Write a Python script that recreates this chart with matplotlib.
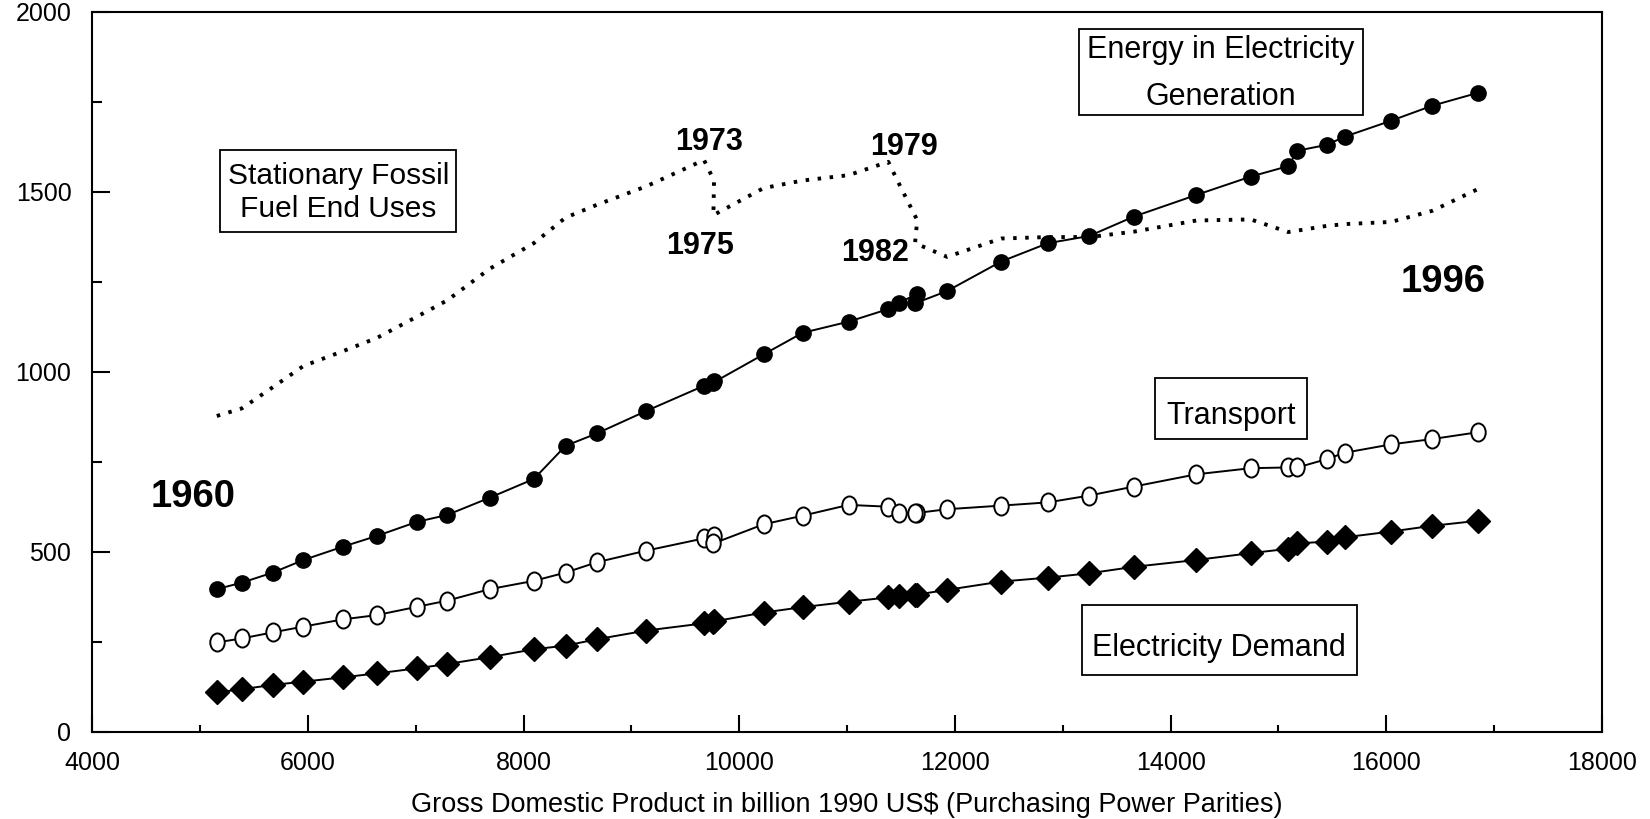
import numpy as np
import matplotlib
matplotlib.use("Agg")
import matplotlib.pyplot as plt
from matplotlib.markers import MarkerStyle
from matplotlib.path import Path
from matplotlib.patches import Rectangle
from matplotlib.ticker import MultipleLocator
from matplotlib.transforms import Affine2D

plt.rcParams["font.family"] = ["Liberation Sans", "DejaVu Sans"]

# GDP, billion 1990 US$ (PPP), one value per year 1960-1996
gdp = [5155, 5387, 5675, 5959, 6325, 6641, 7012, 7291, 7686, 8095,
       8389, 8683, 9138, 9673, 9766, 9760, 10225, 10587, 11014, 11382,
       11478, 11650, 11630, 11927, 12428, 12862, 13245, 13660, 14239, 14743,
       15090, 15176, 15446, 15616, 16043, 16427, 16854]

generation = [396, 414, 442, 477, 514, 544, 583, 602, 650, 702,
              794, 829, 891, 961, 975, 970, 1048, 1108, 1139, 1174,
              1192, 1215, 1190, 1224, 1306, 1357, 1377, 1431, 1491, 1542,
              1571, 1614, 1630, 1653, 1697, 1739, 1775]

transport = [248, 259, 276, 292, 312, 324, 347, 364, 396, 419,
             442, 471, 503, 537, 544, 523, 576, 600, 630, 625,
             608, 607, 607, 618, 628, 637, 656, 681, 715, 732,
             734, 734, 757, 775, 798, 813, 832]

elec_demand = [109, 118, 130, 139, 151, 162, 176, 188, 207, 229,
               239, 257, 281, 301, 308, 306, 331, 346, 361, 373,
               377, 380, 380, 394, 417, 428, 440, 458, 477, 496,
               508, 523, 528, 540, 556, 572, 586]

fossil = [877, 898, 957, 1016, 1057, 1094, 1153, 1198, 1286, 1357,
          1428, 1464, 1515, 1588, 1531, 1435, 1510, 1531, 1546, 1583,
          1524, 1421, 1357, 1319, 1370, 1374, 1374, 1389, 1420, 1423,
          1388, 1392, 1405, 1410, 1416, 1447, 1508]

fig = plt.figure(figsize=(16.5, 8.19), dpi=100)
ax = fig.add_axes([0.0559, 0.1066, 0.915, 0.8791])

# tall open ellipse for the transport series
ellipse = MarkerStyle(Path.unit_circle().transformed(Affine2D().scale(0.8, 1.0)))

ax.plot(gdp, fossil, color="black", lw=2.8, ls=(0, (0.9, 2.2)),
        dash_capstyle="butt")
ax.plot(gdp, generation, color="black", lw=1.4, marker="o", ms=11,
        mfc="black", mec="black")
ax.plot(gdp, transport, color="black", lw=1.4, marker=ellipse, ms=13,
        mfc="white", mec="black", mew=1.4)
ax.plot(gdp, elec_demand, color="black", lw=1.4, marker="D", ms=12,
        mfc="black", mec="black")

ax.set_xlim(4000, 18000)
ax.set_ylim(0, 2000)
ax.xaxis.set_major_locator(MultipleLocator(2000))
ax.xaxis.set_minor_locator(MultipleLocator(1000))
ax.yaxis.set_major_locator(MultipleLocator(500))
ax.yaxis.set_minor_locator(MultipleLocator(250))

for s in ax.spines.values():
    s.set_linewidth(1.5)
ax.tick_params(axis="both", which="both", direction="in", width=1.5,
               top=False, right=False, labelsize=18)
ax.tick_params(axis="x", which="major", length=12.5, pad=14)
ax.tick_params(axis="x", which="minor", length=5)
ax.tick_params(axis="y", which="major", length=13, pad=15)
ax.tick_params(axis="y", which="minor", length=7)

ax.set_xlabel("Gross Domestic Product in billion 1990 US$ (Purchasing Power Parities)",
              fontsize=19.5, labelpad=12)

# year markers
for txt, x, y, size in [("1973", 9717, 1638, 22), ("1975", 9633, 1349, 22),
                        ("1979", 11527, 1624, 22), ("1982", 11258, 1330, 22),
                        ("1960", 4935, 652, 27.5), ("1996", 16523, 1249, 27.5)]:
    ax.text(x, y, txt, fontsize=size, fontweight="bold", ha="center", va="center")

# boxed series labels
boxes = [(5186, 1388, 7377, 1616), (13152, 1713, 15780, 1952),
         (13858, 813, 15269, 982), (13180, 158, 15724, 352)]
for x0, y0, x1, y1 in boxes:
    ax.add_patch(Rectangle((x0, y0), x1 - x0, y1 - y0, fill=False,
                           ec="black", lw=1.3))

ax.text(6281, 1498, "Stationary Fossil\nFuel End Uses", fontsize=21.5,
        ha="center", va="center", linespacing=1.2)
ax.text(14466, 1828, "Energy in Electricity\nGeneration", fontsize=22,
        ha="center", va="center", linespacing=1.75)
ax.text(14563, 877, "Transport", fontsize=22, ha="center", va="center")
ax.text(14452, 232, "Electricity Demand", fontsize=22, ha="center", va="center")

fig.savefig("out.png", dpi=100)
